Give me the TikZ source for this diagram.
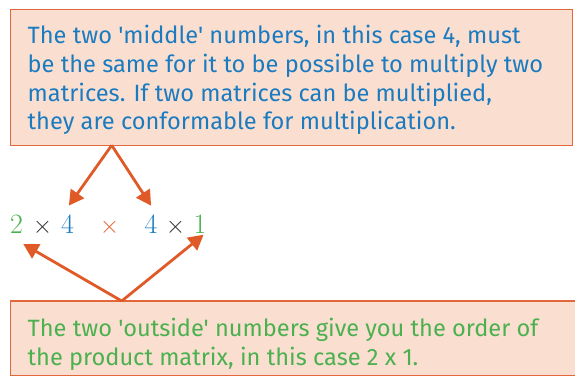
\documentclass[tikz,border=0pt]{standalone}
\usepackage{fontspec}
\newfontfamily\boxfont{Fira Sans}
\usetikzlibrary{arrows.meta}
\definecolor{boxfill}{HTML}{FADFD0}
\definecolor{boxline}{HTML}{E2673A}
\definecolor{arrowc}{HTML}{E05A28}
\definecolor{tblue}{HTML}{1B7BC0}
\definecolor{tgreen}{HTML}{4BB04F}
\definecolor{tdark}{HTML}{333333}
\tikzset{
  infobox/.style={draw=boxline, fill=boxfill, line width=1.2pt},
  infotext/.style={anchor=north west, align=left, inner sep=0pt, font=\boxfont\fontsize{23.6}{28.7}\selectfont},
  pointer/.style={draw=arrowc, line width=2.8pt, -{Triangle[length=15pt,width=16pt]}, shorten >=-2pt},
  expr/.style={anchor=base, inner sep=0pt, font=\fontsize{28}{30}\selectfont}
}
\begin{document}
\begin{tikzpicture}[x=1pt,y=-1pt]
\useasboundingbox (0,0) rectangle (575,375);
% top box
\draw[infobox] (10.3,9.5) rectangle (572.7,145.3);
\node[infotext, text=tblue] (toptext) at (27.5,25.2) {The two 'middle' numbers, in this case 4, must\\be the same for it to be possible to multiply two\\matrices. If two matrices can be multiplied,\\they are conformable for multiplication.};
% bottom box
\draw[infobox] (577,376) -- (10.3,376) -- (10.3,301) -- (577,301);
\node[infotext, text=tgreen] (bottext) at (27.5,318.2) {The two 'outside' numbers give you the order of\\the product matrix, in this case 2 x 1.};
% expression
\node[expr, text=tgreen] (n2) at (16.5,233) {2};
\node[expr, text=tdark] (x1) at (42.5,233) {$\times$};
\node[expr, text=tblue] (n4a) at (67.5,233) {4};
\node[expr, text=boxline] (xm) at (109.5,233) {$\times$};
\node[expr, text=tblue] (n4b) at (151,233) {4};
\node[expr, text=tdark] (x2) at (175.5,233) {$\times$};
\node[expr, text=tgreen] (n1) at (200,233) {1};
% coordinates
\coordinate (topapex) at (111.7,145.3);
\coordinate (botapex) at (121.7,301);
\coordinate (tipA) at (70,204);
\coordinate (tipB) at (150,204);
\coordinate (tipC) at (25,245);
\coordinate (tipD) at (202,236);
\draw[pointer] (topapex) -- (tipA);
\draw[pointer] (topapex) -- (tipB);
\draw[pointer] (botapex) -- (tipC);
\draw[pointer] (botapex) -- (tipD);
\end{tikzpicture}
\end{document}
